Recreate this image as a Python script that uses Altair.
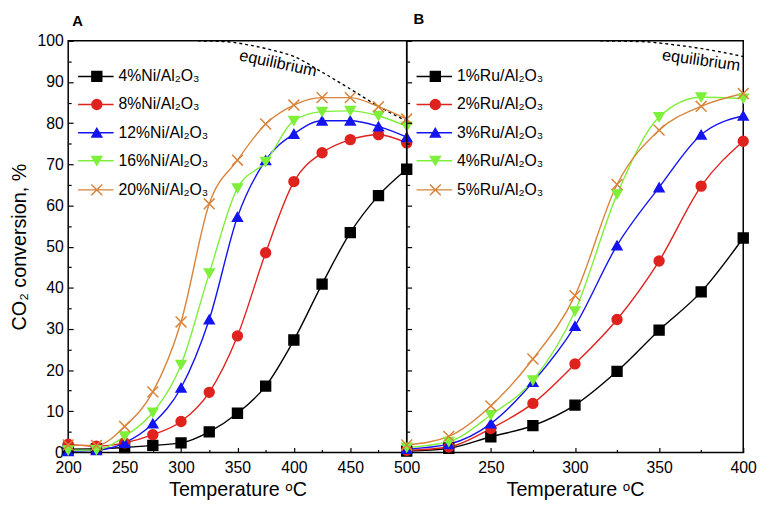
import altair as alt
import pandas as pd

FONT = "Liberation Sans"

# ---------------- data ----------------
temps_A = [200, 225, 250, 275, 300, 325, 350, 375, 400, 425, 450, 475, 500]
ni_names = ["4%Ni/Al₂O₃", "8%Ni/Al₂O₃", "12%Ni/Al₂O₃", "16%Ni/Al₂O₃", "20%Ni/Al₂O₃"]
ni_4 = [0.8, 0.9, 1.2, 1.7, 2.3, 5.0, 9.5, 16.1, 27.3, 40.9, 53.4, 62.4, 68.8]
ni_8 = [2.0, 1.5, 2.3, 4.3, 7.5, 14.6, 28.3, 48.5, 65.8, 72.8, 76.0, 77.2, 75.2]
ni_12 = [0.3, 0.5, 2.3, 7.0, 15.7, 32.3, 57.2, 71.0, 77.4, 80.6, 80.6, 79.2, 76.6]
ni_16 = [0.5, 0.6, 3.9, 9.7, 21.3, 43.5, 64.2, 70.6, 80.6, 82.8, 83.0, 81.8, 79.2]
ni_20 = [1.8, 1.7, 6.3, 14.7, 31.7, 60.4, 71.0, 79.8, 84.4, 86.2, 86.2, 84.0, 81.0]

temps_B = [200, 225, 250, 275, 300, 325, 350, 375, 400]
ru_names = ["1%Ru/Al₂O₃", "2%Ru/Al₂O₃", "3%Ru/Al₂O₃", "4%Ru/Al₂O₃", "5%Ru/Al₂O₃"]
ru_1 = [0.3, 1.0, 3.8, 6.5, 11.5, 19.7, 29.7, 39.0, 52.1]
ru_2 = [0.5, 1.3, 5.8, 11.9, 21.5, 32.3, 46.5, 64.7, 75.6]
ru_3 = [0.8, 2.0, 7.0, 17.1, 30.7, 50.3, 64.4, 77.2, 81.8]
ru_4 = [1.2, 2.6, 9.1, 17.5, 34.3, 62.7, 81.5, 86.3, 86.0]
ru_5 = [1.8, 3.9, 11.3, 22.7, 38.1, 65.1, 78.3, 84.1, 87.2]

eq_temps = [315, 340, 360, 380, 400, 425, 450, 475, 500]
eq_values = [100.0, 99.8, 99.0, 97.8, 96.2, 92.4, 88.3, 84.1, 80.5]

# annotation anchors (data coordinates) for the "equilibrium" labels
eq_label_A = {"T": [386], "v": [94.5]}
eq_label_B = {"T": [375], "v": [95.2]}

# tick values
x_labels_A = [200, 250, 300, 350, 400, 450, 500]
x_labels_B = [250, 300, 350, 400]
y_labels = [0, 10, 20, 30, 40, 50, 60, 70, 80, 90, 100]
y_minor = [5, 15, 25, 35, 45, 55, 65, 75, 85, 95]

# ---------------- styles ----------------
colors = ["#000000", "#e0221e", "#1414f0", "#7ef03a", "#d8843a"]
X_PATH = "M-1.1,-1.1L1.1,1.1M-1.1,1.1L1.1,-1.1"
point_shapes = ["square", "circle", "triangle-up", "triangle-down", X_PATH]
LINE = "M-3.8,0H3.4"
legend_paths = [
    LINE + "M-1,-1H1V1H-1Z",
    LINE + "M-1,0A1,1 0 1,0 1,0A1,1 0 1,0 -1,0Z",
    LINE + "M0,-0.866L-1,0.866L1,0.866Z",
    LINE + "M0,0.866L-1,-0.866L1,-0.866Z",
    LINE + X_PATH,
]


def long_frame(temps, names, series):
    rows = []
    for name, vals in zip(names, series):
        for t, v in zip(temps, vals):
            rows.append({"T": t, "v": v, "series": name})
    return pd.DataFrame(rows)


def tick_axis(orient, values, size):
    return alt.Axis(orient=orient, values=values, labels=False, title=None,
                    ticks=True, tickSize=size, offset=-size, domain=False, grid=False)


def panel(df, names, xmax, x_label_vals, show_y_labels, title_text,
          title_dx, title_offset, eq_df, eq_text_df, eq_angle, width):
    xs = alt.Scale(domain=[200, xmax], nice=False, zero=False)
    ys = alt.Scale(domain=[0, 100], nice=False)

    x_major_vals = list(range(200, xmax + 1, 50))
    x_minor_vals = list(range(225, xmax, 50))

    x_lab = alt.Axis(orient="bottom", values=x_label_vals, title="Temperature ᵒC",
                     titleFontSize=20, titleFontWeight="normal", titlePadding=5,
                     labelFontSize=16, labelPadding=7, ticks=False, domain=False,
                     grid=False, labelFlush=False, labelOverlap=False)
    if show_y_labels:
        y_lab = alt.Axis(orient="left", values=y_labels, title="CO₂ conversion, %",
                         titleFontSize=20, titleFontWeight="normal", titlePadding=8,
                         labelFontSize=16, labelPadding=5, ticks=False, domain=False,
                         grid=False, labelFlush=False, labelOverlap=False)
    else:
        y_lab = None

    def X(axis):
        return alt.X("T:Q", scale=xs, axis=axis)

    def Y(axis):
        return alt.Y("v:Q", scale=ys, axis=axis)

    leg = alt.Legend(
        title=None, orient="none", legendX=21, legendY=28,
        labelFont=FONT, labelFontSize=16, labelColor="black",
        symbolSize=100, symbolStrokeWidth=1.5, symbolOpacity=1,
        rowPadding=12.5, labelOffset=14, padding=0,
    )

    eq_line = alt.Chart(eq_df).mark_line(
        color="black", strokeDash=[3, 3], strokeWidth=1.4, interpolate="monotone"
    ).encode(x=X(x_lab), y=Y(y_lab))

    lines = alt.Chart(df).mark_line(interpolate="monotone", strokeWidth=1.4).encode(
        x=X(tick_axis("bottom", x_major_vals, 5)),
        y=Y(tick_axis("left", y_labels, 5)),
        color=alt.Color("series:N", scale=alt.Scale(domain=names, range=colors), legend=None),
    )
    points = alt.Chart(df).mark_point(filled=True, size=100, strokeWidth=1.5, opacity=1).encode(
        x=X(tick_axis("bottom", x_minor_vals, 3)),
        y=Y(tick_axis("left", y_minor, 3)),
        fill=alt.Fill("series:N", scale=alt.Scale(domain=names, range=colors), legend=None),
        stroke=alt.Stroke("series:N", scale=alt.Scale(domain=names, range=colors), legend=None),
        shape=alt.Shape("series:N", scale=alt.Scale(domain=names, range=point_shapes), legend=None),
    )
    legend_layer = alt.Chart(df).mark_point(filled=True, size=100, strokeWidth=1.5, opacity=0).encode(
        x=X(None), y=Y(None),
        fill=alt.Fill("series:N", scale=alt.Scale(domain=names, range=colors), legend=leg),
        stroke=alt.Stroke("series:N", scale=alt.Scale(domain=names, range=colors), legend=leg),
        shape=alt.Shape("series:N", scale=alt.Scale(domain=names, range=legend_paths), legend=leg),
    )
    eq_text = alt.Chart(eq_text_df).mark_text(
        text="equilibrium", angle=eq_angle, fontSize=16.5, font=FONT, color="black"
    ).encode(x=X(None), y=Y(None))

    return (
        alt.layer(eq_line, lines, points, legend_layer, eq_text)
        .resolve_scale(fill="independent", stroke="independent", shape="independent")
        .resolve_axis(x="independent", y="independent")
        .properties(
            width=width,
            height=417,
            title=alt.TitleParams(
                title_text, anchor="start", frame="group", fontSize=15,
                fontWeight="bold", font=FONT, dx=title_dx, offset=title_offset,
                color="black",
            ),
        )
    )


df_A = long_frame(temps_A, ni_names, [ni_4, ni_8, ni_12, ni_16, ni_20])
df_B = long_frame(temps_B, ru_names, [ru_1, ru_2, ru_3, ru_4, ru_5])
eq_A = pd.DataFrame({"T": eq_temps, "v": eq_values})
eq_B = eq_A[eq_A["T"] <= 400]

pA = panel(df_A, ni_names, 500, x_labels_A, True, "A", 4, 4, eq_A,
           pd.DataFrame(eq_label_A), 12, 343)
pB = panel(df_B, ru_names, 400, x_labels_B, False, "B", 7, 11, eq_B,
           pd.DataFrame(eq_label_B), 8, 341)

chart = (
    alt.hconcat(pA, pB, spacing=0, bounds="flush")
    .resolve_scale(color="independent", fill="independent", stroke="independent",
                   shape="independent", x="independent")
    .properties(padding={"left": 0, "top": 0, "right": 0, "bottom": 0})
    .configure_view(stroke="black", strokeWidth=1.5)
    .configure_axis(labelFont=FONT, titleFont=FONT, labelColor="black",
                    titleColor="black", tickColor="black", tickWidth=1.2)
    .configure_legend(labelFont=FONT)
    .configure_title(font=FONT)
)

chart.save("out.html", embed_options={"renderer": "svg", "actions": False})
